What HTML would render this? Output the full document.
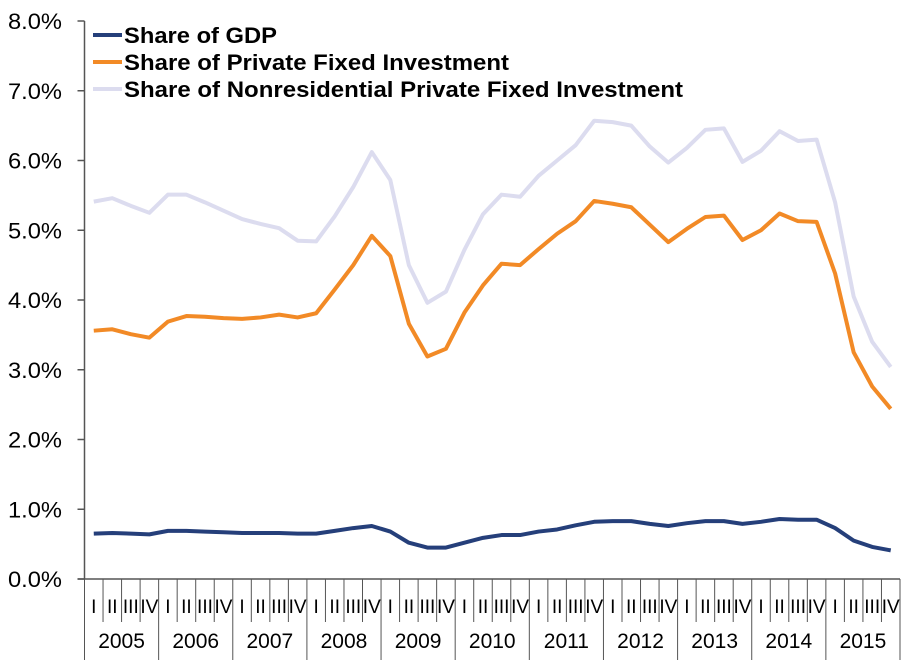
<!DOCTYPE html>
<html><head><meta charset="utf-8"><style>
body{margin:0;background:#fff}
svg text{font-family:"Liberation Sans",Arial,sans-serif}
</style></head><body>
<svg id="chart" width="910" height="660" xmlns="http://www.w3.org/2000/svg"></svg>
<script>
const years=["2005","2006","2007","2008","2009","2010","2011","2012","2013","2014","2015"];
const quarters=["I","II","III","IV"];
const yTicks=["0.0%","1.0%","2.0%","3.0%","4.0%","5.0%","6.0%","7.0%","8.0%"];
const gdpShare=[0.65,0.66,0.65,0.64,0.69,0.69,0.68,0.67,0.66,0.66,0.66,0.65,0.65,0.69,0.73,0.76,0.68,0.52,0.45,0.45,0.52,0.59,0.63,0.63,0.68,0.71,0.77,0.82,0.83,0.83,0.79,0.76,0.80,0.83,0.83,0.79,0.82,0.86,0.85,0.85,0.73,0.55,0.46,0.41];
const pfiShare=[3.56,3.58,3.51,3.46,3.69,3.77,3.76,3.74,3.73,3.75,3.79,3.75,3.81,4.15,4.50,4.92,4.63,3.66,3.19,3.30,3.82,4.21,4.52,4.50,4.73,4.95,5.13,5.42,5.38,5.33,5.08,4.83,5.02,5.19,5.21,4.86,5.00,5.24,5.13,5.12,4.38,3.25,2.76,2.44];
const nonresShare=[5.41,5.46,5.35,5.25,5.51,5.51,5.40,5.28,5.16,5.09,5.03,4.85,4.84,5.20,5.62,6.12,5.72,4.50,3.96,4.12,4.72,5.23,5.51,5.48,5.78,6.00,6.22,6.57,6.55,6.50,6.20,5.97,6.18,6.44,6.46,5.98,6.14,6.42,6.28,6.30,5.40,4.05,3.40,3.04];
const seriesNames=["Share of GDP","Share of Private Fixed Investment","Share of Nonresidential Private Fixed Investment"];

const NS="http://www.w3.org/2000/svg";
const svg=document.getElementById('chart');
const X0=84.5,X1=900,Y0=579,Y1=21,yMax=8;
const nQ=years.length*4, qw=(X1-X0)/nQ;
const xs=i=>X0+qw*(i+0.5);
const ys=v=>Y0-(v/yMax)*(Y0-Y1);
function mk(tag,attrs,parent){const e=document.createElementNS(NS,tag);for(const k in attrs)e.setAttribute(k,attrs[k]);(parent||svg).appendChild(e);return e;}

const yAxis=mk('line',{x1:X0,y1:Y1,x2:X0,y2:Y0,stroke:'#555','stroke-width':1.5});


yTicks.forEach((t,i)=>{
  const v=parseFloat(t), y=ys(v);
  const tk=mk('line',{x1:X0-7,y1:y,x2:X0,y2:y,stroke:'#555','stroke-width':1.5});
  
  
  const tx=mk('text',{x:8,y:y+8,'font-size':22,fill:'#000',textLength:54,lengthAdjust:'spacingAndGlyphs'});
  tx.textContent=t;
  
  
});
const xAxis=mk('line',{x1:X0-7,y1:Y0,x2:X1,y2:Y0,stroke:'#555','stroke-width':1.5});


for(let i=0;i<=nQ;i++){
  const x=X0+qw*i, yr=(i%4===0);
  const l=mk('line',{x1:x,y1:Y0,x2:x,y2:yr?660:622,stroke:'#555','stroke-width':1});
  
  
}
for(let i=0;i<nQ;i++){
  const t=mk('text',{x:xs(i),y:613,'text-anchor':'middle','font-size':19,fill:'#000'});
  t.textContent=quarters[i%4];
  
  
}
years.forEach((yv,j)=>{
  const t=mk('text',{x:X0+qw*(j*4+2),y:648,'text-anchor':'middle','font-size':21,fill:'#000'});
  t.textContent=yv;
  
  
});
const defs=[[nonresShare,'#DCDCEF','nonresidential-line'],[pfiShare,'#F28A26','private-fixed-investment-line'],[gdpShare,'#253F7A','gdp-line']];
defs.forEach(([d,c,n])=>{
  const p=mk('polyline',{points:d.map((v,i)=>xs(i)+','+ys(v)).join(' '),fill:'none',stroke:c,'stroke-width':4,'stroke-linejoin':'round'});
  
  
});
const legCols=['#253F7A','#F28A26','#DCDCEF'];
const legY=[35,62,89];
const legLen=[153,385,559];
seriesNames.forEach((s,i)=>{
  const g=mk('g',{});
  
  
  mk('line',{x1:93,y1:legY[i],x2:122,y2:legY[i],stroke:legCols[i],'stroke-width':4},g);
  const t=mk('text',{x:124,y:legY[i]+8,'font-size':22,'font-weight':'bold',fill:'#000',textLength:legLen[i],lengthAdjust:'spacingAndGlyphs'},g);
  t.textContent=s;
});
</script>
</body></html>
